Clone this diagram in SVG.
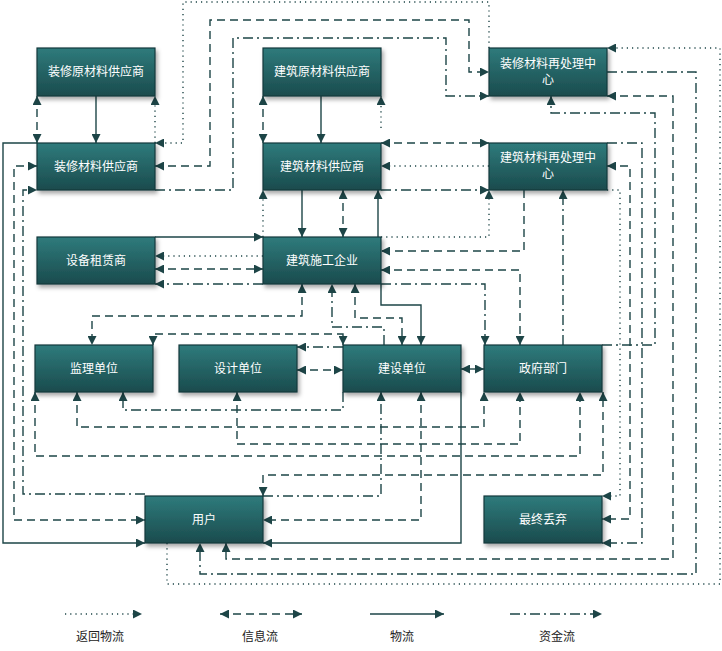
<svg xmlns="http://www.w3.org/2000/svg" width="722" height="651" viewBox="0 0 722 651">
<defs>
<linearGradient id="g" x1="0" y1="0" x2="0" y2="1"><stop offset="0" stop-color="#2f7b7c"/><stop offset="1" stop-color="#1a4b4d"/></linearGradient>
<filter id="sh" x="-10%" y="-10%" width="130%" height="140%"><feDropShadow dx="2" dy="3" stdDeviation="2" flood-color="#000" flood-opacity="0.35"/></filter>
<marker id="a" viewBox="0 0 10 10" refX="10" refY="5" markerWidth="9" markerHeight="9" markerUnits="userSpaceOnUse" orient="auto-start-reverse"><path d="M0,0L10,5L0,10z" fill="#1d4547"/></marker>
<style>
.n rect{fill:url(#g);stroke:#15393b;stroke-width:1.2;filter:url(#sh)}
.n text{fill:#fff;font:12px "Noto Sans CJK SC","Liberation Sans",sans-serif;text-anchor:middle}
.c path{fill:none;stroke:#1d4547;stroke-width:1.4}
.d{stroke-dasharray:1.2 4}
.i{stroke-dasharray:8 5}
.m{stroke-dasharray:10 4 2 4}
.e{marker-end:url(#a)}
.b{marker-start:url(#a);marker-end:url(#a)}
.l{fill:#222;font:12px "Noto Sans CJK SC","Liberation Sans",sans-serif;text-anchor:middle}
</style>
</defs>
<g class="c">
<!-- top -->
<path class="i b" d="M37,96V143"/>
<path class="e" d="M96,96V143"/>
<path class="d e" d="M155,143V96"/>
<path class="i b" d="M263,96V143"/>
<path class="e" d="M321,96V143"/>
<path class="d e" d="M381,128V96"/>
<path class="i b" d="M381,143H489"/>
<path class="d e" d="M489,166H381"/>
<path class="m e" d="M381,190H489"/>
<path class="d e" d="M489,48V2H183V143H155"/>
<path class="i b" d="M155,166H210V20H469V72H489"/>
<path class="m e" d="M155,190H233V38H446V96H489"/>
<path class="d e" d="M167,543V584H720V48H607"/>
<path class="m e" d="M607,72H696V574H200V543"/>
<path class="i b" d="M607,96H673V559H226V543"/>
<path class="m e" d="M602,345H655V113H551V96"/>
<path class="m e" d="M607,143H642V543H602"/>
<path class="i b" d="M607,166H630V519H602"/>
<path class="d e" d="M607,190H620V496H602"/>
<!-- left -->
<path class="e" d="M37,143H3V543H145"/>
<path class="i b" d="M37,166H14V520H145"/>
<path class="m e" d="M145,494H23V190H37"/>
<!-- 设备/施工 -->
<path class="e" d="M155,237H263"/>
<path class="d e" d="M263,256H155"/>
<path class="i b" d="M155,269H263"/>
<path class="m e" d="M263,284H155"/>
<path class="d e" d="M263,237V190"/>
<path class="e" d="M302,190V237"/>
<path class="i b" d="M343,190V237"/>
<path class="e" d="M378,237V190"/>
<path class="d e" d="M381,237H489V190"/>
<path class="i e" d="M524,190V251H381"/>
<path class="i b" d="M381,270H520V345"/>
<path class="m e" d="M381,284H485V345"/>
<path class="m e" d="M563,345V190"/>
<!-- 施工 bottom -->
<path class="i b" d="M302,284V316H92V345"/>
<path class="m e" d="M384,345V327H332V284"/>
<path class="i b" d="M355,284V318H402V345"/>
<path class="e" d="M381,284V305H421V345"/>
<path class="i b" d="M153,345V334H343V345"/>
<path class="m e" d="M343,347H297"/>
<path class="i b" d="M297,370H343"/>
<path class="b" d="M461,369H484"/>
<!-- below -->
<path class="m e" d="M343,392V410H123V392"/>
<path class="i b" d="M77,392V427H484V392"/>
<path class="i b" d="M237,392V444H520V392"/>
<path class="i b" d="M35,392V456H580V392"/>
<path class="i b" d="M263,496V475H603V392"/>
<path class="m e" d="M263,496H381V392"/>
<path class="i b" d="M421,392V520H263"/>
<path class="e" d="M461,392V543H263"/>
<!-- legend -->
<path class="d e" d="M65,614H142"/>
<path class="i b" d="M220,614H302"/>
<path class="e" d="M370,614H444"/>
<path class="m e" d="M510,614H602"/>
</g>
<text class="l" x="100" y="641">返回物流</text>
<text class="l" x="260" y="641">信息流</text>
<text class="l" x="402" y="641">物流</text>
<text class="l" x="557" y="641">资金流</text>
<g id="n1" class="n"><rect x="37" y="48" width="118" height="48"/><text x="96" y="76">装修原材料供应商</text></g>
<g id="n2" class="n"><rect x="263" y="48" width="118" height="48"/><text x="322" y="76">建筑原材料供应商</text></g>
<g id="n3" class="n"><rect x="489" y="48" width="118" height="48"/><text x="548" y="68">装修材料再处理中</text><text x="548" y="84">心</text></g>
<g id="n4" class="n"><rect x="37" y="143" width="118" height="47"/><text x="96" y="171">装修材料供应商</text></g>
<g id="n5" class="n"><rect x="263" y="143" width="118" height="47"/><text x="322" y="171">建筑材料供应商</text></g>
<g id="n6" class="n"><rect x="489" y="143" width="118" height="47"/><text x="548" y="162">建筑材料再处理中</text><text x="548" y="178">心</text></g>
<g id="n7" class="n"><rect x="37" y="237" width="118" height="47"/><text x="96" y="265">设备租赁商</text></g>
<g id="n8" class="n"><rect x="263" y="237" width="118" height="47"/><text x="322" y="265">建筑施工企业</text></g>
<g id="n9" class="n"><rect x="35" y="345" width="118" height="47"/><text x="94" y="373">监理单位</text></g>
<g id="n10" class="n"><rect x="179" y="345" width="118" height="47"/><text x="238" y="373">设计单位</text></g>
<g id="n11" class="n"><rect x="343" y="345" width="118" height="47"/><text x="402" y="373">建设单位</text></g>
<g id="n12" class="n"><rect x="484" y="345" width="118" height="47"/><text x="543" y="373">政府部门</text></g>
<g id="n13" class="n"><rect x="145" y="496" width="118" height="47"/><text x="204" y="524">用户</text></g>
<g id="n14" class="n"><rect x="484" y="496" width="118" height="47"/><text x="543" y="524">最终丢弃</text></g>
</svg>
